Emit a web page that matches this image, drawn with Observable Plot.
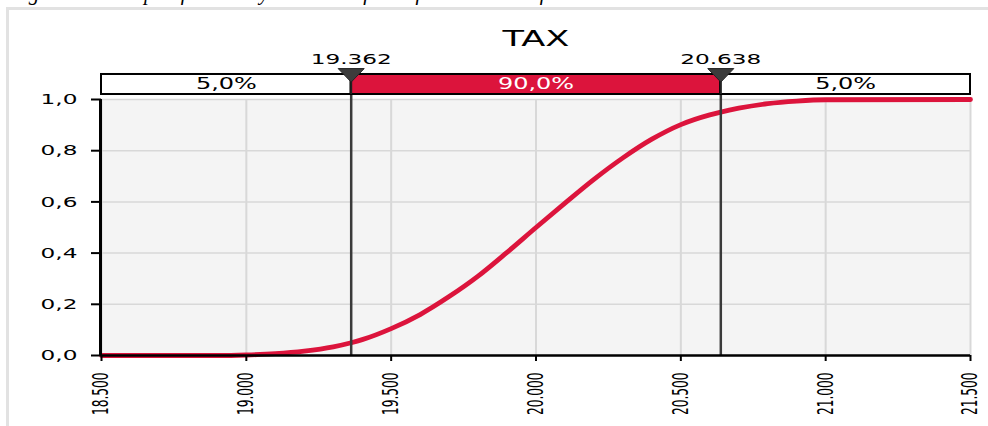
<!DOCTYPE html>
<html><head><meta charset="utf-8">
<script src="https://cdn.jsdelivr.net/npm/d3@7"></script>
<script src="https://cdn.jsdelivr.net/npm/@observablehq/plot@0.6"></script>
<style>
html,body{margin:0;padding:0;background:#fff;overflow:hidden;width:988px;height:426px;}
#wrap{position:relative;width:988px;height:426px;overflow:hidden;}
#frame{position:absolute;left:6px;top:7px;width:1000px;height:440px;border:3px solid #e2e2e2;box-sizing:border-box;}
#cap{position:absolute;left:10px;top:-17px;font:italic 21px/20px "Liberation Serif",serif;white-space:nowrap;color:#000;}
#chart{position:absolute;left:0;top:0;}
</style></head><body>
<div id="wrap">
<div id="cap">Figure 4.4: Graph of summary statistics of TAX forecast result for the whole scale intervals</div>
<div id="frame"></div>
<div id="chart"></div>
</div>
<script>
const title = "TAX";
const xTicks = [18500, 19000, 19500, 20000, 20500, 21000, 21500];
const yTicks = [0, 0.2, 0.4, 0.6, 0.8, 1.0];
const cdfX = [18500, 18900, 19000, 19100, 19200, 19300, 19362, 19400, 19500, 19600, 19700, 19800, 19900, 20000, 20100, 20200, 20300, 20400, 20500, 20600, 20638, 20700, 20800, 20900, 21000, 21500];
const cdfY = [0, 0, 0.002, 0.007, 0.017, 0.034, 0.05, 0.062, 0.105, 0.160, 0.230, 0.310, 0.403, 0.500, 0.595, 0.688, 0.772, 0.845, 0.902, 0.940, 0.951, 0.966, 0.984, 0.994, 0.999, 1.0];
const quantiles = [19362, 20638];
const bandLabels = ["5,0%", "90,0%", "5,0%"];

const RED = "#dc143c";
const loc = d3.formatLocale({decimal: ",", thousands: ".", grouping: [3], currency: ["", ""]});
const fx = loc.format(",d");
const fy = loc.format(".1f");

const data = cdfX.map((x, i) => ({x, y: cdfY[i]}));
const bounds = [xTicks[0], ...quantiles, xTicks[xTicks.length - 1]];
const bands = bandLabels.map((label, i) => ({
  x1: bounds[i], x2: bounds[i + 1], mid: (bounds[i] + bounds[i + 1]) / 2, label,
  fill: i === 1 ? RED : "#ffffff", ink: i === 1 ? "#ffffff" : "#000000"
}));
// vertical placement of the delimiter strip (in y-scale units, above the frame)
const L = {barLo: 1.0195, barHi: 1.0977, barMid: 1.0586, tip: 1.068, qLabel: 1.155};
const tri = {draw(ctx) { ctx.moveTo(-13, -13.5); ctx.lineTo(13, -13.5); ctx.lineTo(0, 0); ctx.closePath(); }};

const chart = Plot.plot({
  width: 988, height: 426,
  marginLeft: 101, marginRight: 18, marginTop: 99, marginBottom: 71,
  style: {fontFamily: "DejaVu Sans", fontSize: "14px", color: "#000", background: "transparent", overflow: "visible"},
  x: {domain: [18500, 21500], label: null},
  y: {domain: [0, 1], label: null},
  color: {type: "identity"},
  marks: [
    Plot.frame({fill: "#f4f4f4", stroke: null}),
    Plot.ruleX(xTicks, {stroke: "#d8d8d8", strokeWidth: 2}),
    Plot.ruleY(yTicks, {stroke: "#d8d8d8", strokeWidth: 1.5}),
    Plot.line(data, {x: "x", y: "y", stroke: RED, strokeWidth: 4.8, curve: "monotone-x"}),
    Plot.ruleX(quantiles, {y1: 0, y2: L.barHi, stroke: "#3a3a3a", strokeWidth: 2.5}),
    Plot.rect(bands, {x1: "x1", x2: "x2", y1: L.barLo, y2: L.barHi, fill: "fill", stroke: "#000", strokeWidth: 2}),
    Plot.ruleX(quantiles, {y1: L.barLo, y2: L.barHi, stroke: "#222", strokeWidth: 2}),
    Plot.text(bands, {x: "mid", y: L.barMid, text: "label", fill: "ink", fontSize: 15}),
    Plot.dot(quantiles, {x: d => d, y: L.tip, symbol: tri, fill: "#3c3c3c", stroke: "#222", strokeWidth: 1}),
    Plot.text(quantiles, {x: d => d, y: L.qLabel, text: d => fx(d), fontSize: 14.5}),
    Plot.text([title], {frameAnchor: "top", dy: -69, text: d => d, fontSize: 22}),
    Plot.axisY({ticks: yTicks, tickFormat: fy, tickSize: 10, tickPadding: 14, strokeWidth: 2, fontSize: 14.5, label: null}),
    Plot.axisX({ticks: xTicks, tickFormat: fx, tickRotate: -90, tickSize: 6, tickPadding: 11, strokeWidth: 2,
      fontFamily: "DejaVu Sans Condensed", fontSize: 13.5, label: null}),
    Plot.ruleX([18500], {stroke: "#000", strokeWidth: 3, dx: -1}),
    Plot.ruleY([0], {stroke: "#000", strokeWidth: 2.5})
  ]
});

// the reference's lettering is stretched horizontally
const S = 1.6;
d3.select(chart).selectAll("text").each(function () {
  const T = this.getAttribute("transform") || "";
  if (/rotate\(/.test(T)) {
    this.setAttribute("transform", T.replace("rotate(", `scale(${S},1) rotate(`));
  } else {
    const x = parseFloat(this.getAttribute("x")) || 0;
    this.setAttribute("transform", `${T} translate(${x},0) scale(${S},1) translate(${-x},0)`);
  }
});
document.getElementById("chart").appendChild(chart);
</script>
</body></html>
